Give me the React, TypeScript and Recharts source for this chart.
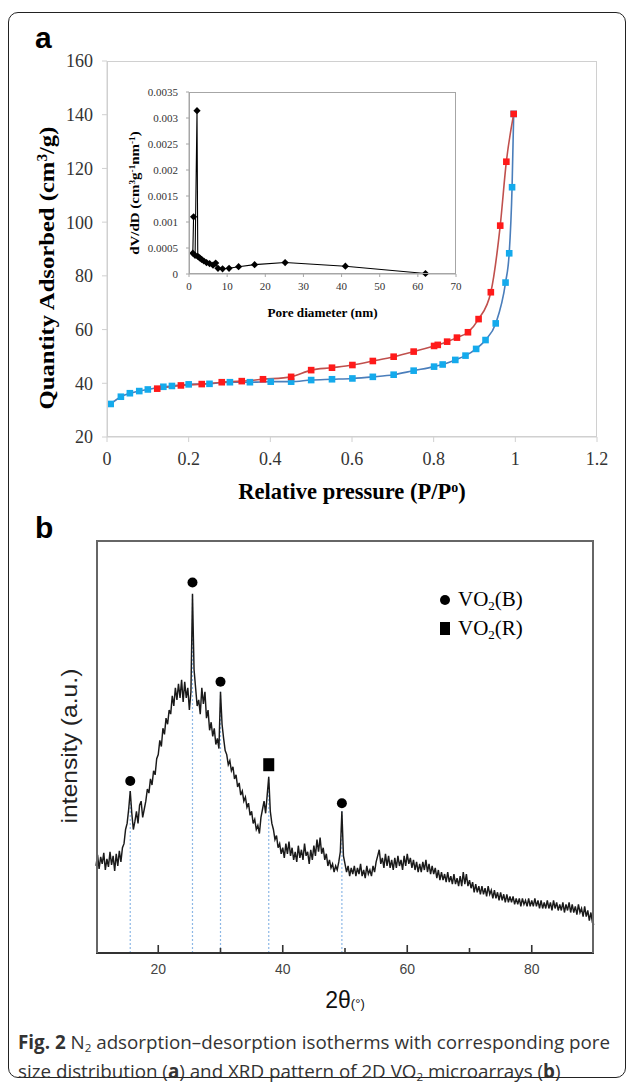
import React from "react";
import { LineChart, Line, ComposedChart, Scatter, XAxis, YAxis, ReferenceLine } from "recharts";

// ---- panel a: N2 isotherm (P/P0 vs quantity adsorbed, cm3/g)
const adsP = [0.009, 0.034, 0.056, 0.079, 0.1, 0.138, 0.159, 0.2, 0.251, 0.301, 0.35, 0.401, 0.451, 0.5, 0.551, 0.601, 0.651, 0.702, 0.751, 0.801, 0.822, 0.853, 0.878, 0.904, 0.927, 0.952, 0.976, 0.985, 0.992, 0.996];
const adsQ = [32.3, 35.0, 36.3, 37.1, 37.7, 38.7, 39.0, 39.6, 39.8, 40.4, 40.4, 40.6, 40.6, 41.2, 41.5, 41.8, 42.4, 43.2, 44.7, 46.2, 47.0, 48.7, 50.3, 52.8, 56.1, 62.3, 77.5, 88.4, 113.0, 140.3];
const desP = [0.123, 0.181, 0.232, 0.281, 0.33, 0.382, 0.451, 0.5, 0.551, 0.601, 0.651, 0.702, 0.751, 0.801, 0.81, 0.833, 0.857, 0.884, 0.91, 0.94, 0.963, 0.978, 0.996];
const desQ = [38.0, 39.2, 39.7, 40.4, 40.8, 41.5, 42.4, 44.9, 45.8, 46.8, 48.3, 49.9, 51.8, 53.9, 54.3, 55.5, 57.0, 59.0, 63.9, 73.9, 98.7, 122.5, 140.3];
const isoXTicks = [0, 0.2, 0.4, 0.6, 0.8, 1, 1.2];
const isoYTicks = [20, 40, 60, 80, 100, 120, 140, 160];

// inset: pore size distribution
const poreD = [1.2, 1.0, 1.6, 2.1, 2.3, 2.8, 3.3, 3.9, 4.6, 5.4, 6.3, 7.0, 7.6, 8.8, 10.5, 13, 17.2, 25.2, 41, 62];
const poreV = [0.0011, 0.0004, 0.00036, 0.00314, 0.00034, 0.00031, 0.00028, 0.00025, 0.00022, 0.0002, 0.00017, 0.00021, 0.00011, 0.0001, 0.00011, 0.00014, 0.00018, 0.00022, 0.00015, 0.00001];
const poreXTicks = [0, 10, 20, 30, 40, 50, 60, 70];
const poreYTicks = [0, 0.0005, 0.001, 0.0015, 0.002, 0.0025, 0.003, 0.0035];

// ---- panel b: XRD pattern (2theta, intensity in arbitrary units)
const xrdTheta = [
  10, 10.25, 10.5, 10.75, 11, 11.25, 11.5, 11.75,
  12, 12.25, 12.5, 12.75, 13, 13.25, 13.5, 13.75,
  14, 14.25, 14.5, 14.75, 15, 15.25, 15.5, 15.75,
  16, 16.25, 16.5, 16.75, 17, 17.25, 17.5, 17.75,
  18, 18.25, 18.5, 18.75, 19, 19.25, 19.5, 19.75,
  20, 20.25, 20.5, 20.75, 21, 21.25, 21.5, 21.75,
  22, 22.25, 22.5, 22.75, 23, 23.25, 23.5, 23.75,
  24, 24.25, 24.5, 24.75, 25, 25.25, 25.5, 25.75,
  26, 26.25, 26.5, 26.75, 27, 27.25, 27.5, 27.75,
  28, 28.25, 28.5, 28.75, 29, 29.25, 29.5, 29.75,
  30, 30.25, 30.5, 30.75, 31, 31.25, 31.5, 31.75,
  32, 32.25, 32.5, 32.75, 33, 33.25, 33.5, 33.75,
  34, 34.25, 34.5, 34.75, 35, 35.25, 35.5, 35.75,
  36, 36.25, 36.5, 36.75, 37, 37.25, 37.5, 37.75,
  38, 38.25, 38.5, 38.75, 39, 39.25, 39.5, 39.75,
  40, 40.25, 40.5, 40.75, 41, 41.25, 41.5, 41.75,
  42, 42.25, 42.5, 42.75, 43, 43.25, 43.5, 43.75,
  44, 44.25, 44.5, 44.75, 45, 45.25, 45.5, 45.75,
  46, 46.25, 46.5, 46.75, 47, 47.25, 47.5, 47.75,
  48, 48.25, 48.5, 48.75, 49, 49.25, 49.5, 49.75,
  50, 50.25, 50.5, 50.75, 51, 51.25, 51.5, 51.75,
  52, 52.25, 52.5, 52.75, 53, 53.25, 53.5, 53.75,
  54, 54.25, 54.5, 54.75, 55, 55.25, 55.5, 55.75,
  56, 56.25, 56.5, 56.75, 57, 57.25, 57.5, 57.75,
  58, 58.25, 58.5, 58.75, 59, 59.25, 59.5, 59.75,
  60, 60.25, 60.5, 60.75, 61, 61.25, 61.5, 61.75,
  62, 62.25, 62.5, 62.75, 63, 63.25, 63.5, 63.75,
  64, 64.25, 64.5, 64.75, 65, 65.25, 65.5, 65.75,
  66, 66.25, 66.5, 66.75, 67, 67.25, 67.5, 67.75,
  68, 68.25, 68.5, 68.75, 69, 69.25, 69.5, 69.75,
  70, 70.25, 70.5, 70.75, 71, 71.25, 71.5, 71.75,
  72, 72.25, 72.5, 72.75, 73, 73.25, 73.5, 73.75,
  74, 74.25, 74.5, 74.75, 75, 75.25, 75.5, 75.75,
  76, 76.25, 76.5, 76.75, 77, 77.25, 77.5, 77.75,
  78, 78.25, 78.5, 78.75, 79, 79.25, 79.5, 79.75,
  80, 80.25, 80.5, 80.75, 81, 81.25, 81.5, 81.75,
  82, 82.25, 82.5, 82.75, 83, 83.25, 83.5, 83.75,
  84, 84.25, 84.5, 84.75, 85, 85.25, 85.5, 85.75,
  86, 86.25, 86.5, 86.75, 87, 87.25, 87.5, 87.75,
  88, 88.25, 88.5, 88.75, 89, 89.25, 89.5, 89.75,
  90,
];
const xrdIntensity = [
  86, 97, 83, 95, 88, 99, 82, 93,
  85, 100, 87, 96, 81, 98, 86, 101,
  90, 104, 108, 122, 128, 142, 160, 138,
  122, 130, 140, 128, 146, 150, 134, 142,
  150, 162, 158, 172, 166, 180, 176, 192,
  196, 210, 204, 222, 216, 232, 226, 240,
  236, 254, 244, 262, 250, 266, 252, 270,
  248, 268, 252, 262, 240, 258, 355, 280,
  262, 244, 250, 236, 262, 246, 258, 232,
  240, 220, 228, 214, 222, 206, 212, 202,
  258, 226, 212, 200, 196, 186, 190, 180,
  184, 172, 176, 164, 168, 156, 160, 150,
  154, 144, 148, 136, 140, 128, 132, 122,
  126, 118, 134, 142, 150, 138, 156, 174,
  140, 128, 122, 112, 116, 104, 108, 98,
  104, 94, 108, 98, 110, 96, 104, 92,
  100, 90, 106, 94, 102, 92, 108, 96,
  100, 88, 102, 92, 106, 96, 112, 100,
  114, 98, 104, 92, 98, 86, 92, 84,
  88, 80, 86, 82, 90, 100, 140, 96,
  88, 80, 86, 76, 84, 78, 86, 76,
  84, 78, 88, 76, 82, 74, 86, 78,
  82, 76, 86, 80, 90, 96, 102, 88,
  94, 84, 98, 86, 96, 84, 92, 82,
  94, 84, 96, 86, 92, 82, 96, 86,
  98, 88, 94, 84, 92, 82, 90, 80,
  88, 80, 90, 82, 92, 80, 88, 78,
  86, 78, 84, 74, 82, 72, 80, 72,
  78, 70, 80, 70, 76, 68, 78, 68,
  74, 66, 76, 66, 80, 68, 78, 66,
  72, 64, 70, 60, 68, 60, 66, 58,
  66, 58, 64, 56, 66, 58, 62, 54,
  62, 54, 60, 52, 60, 52, 58, 50,
  58, 50, 56, 50, 56, 48, 54, 48,
  54, 46, 54, 48, 52, 46, 54, 46,
  52, 46, 54, 46, 52, 44, 52, 44,
  50, 44, 52, 44, 50, 42, 52, 44,
  50, 42, 48, 42, 50, 40, 48, 42,
  50, 40, 48, 40, 46, 38, 48, 40,
  44, 36, 46, 36, 42, 32, 40, 30,
  28,
];
const peakTheta = [15.5, 25.5, 30, 37.75, 49.5];
const peakTop = [160, 355, 258, 174, 140];
const peakMark = [170, 366, 268, 186, 148];
const peakPhase = ["B", "B", "B", "R", "B"];
const xrdTicks = [20, 30, 40, 50, 60, 70, 80];

const serif = "'Liberation Serif', 'Times New Roman', serif";
const sans = "'Liberation Sans', Arial, sans-serif";

const adsData = adsP.map((p, i) => ({ p, q: adsQ[i] }));
const desData = desP.map((p, i) => ({ p, q: desQ[i] }));
const poreData = poreD.map((d, i) => ({ d, v: poreV[i] }));
const xrdData = xrdTheta.map((t, i) => ({ t, i: xrdIntensity[i] }));
const peakData = peakTheta.map((t, i) => ({ t, m: peakMark[i], phase: peakPhase[i] }));

function squareDot(fill: string) {
  return (props: any) => {
    const { cx, cy, index } = props;
    if (cx == null || cy == null) return <g key={index} />;
    return <rect key={index} x={cx - 3.3} y={cy - 3.3} width={6.6} height={6.6} fill={fill} />;
  };
}

function diamondDot(props: any) {
  const { cx, cy, index } = props;
  if (cx == null || cy == null) return <g key={index} />;
  const r = 3.6;
  return <path key={index} d={`M${cx},${cy - r}L${cx + r},${cy}L${cx},${cy + r}L${cx - r},${cy}Z`} fill="#000" />;
}

function XrdTick(props: any) {
  const { x, y, payload } = props;
  const v = payload.value;
  const major = v % 20 === 0;
  return (
    <g>
      <line x1={x} x2={x} y1={y} y2={y - (major ? 8 : 5)} stroke="#333" strokeWidth={1.6} />
      {major && (
        <text x={x} y={y + 21} textAnchor="middle" fontFamily={sans} fontSize={14} fill="#444">
          {v}
        </text>
      )}
    </g>
  );
}

function PeakShape(props: any) {
  const { cx, cy, payload } = props;
  if (payload.phase === "R") return <rect x={cx - 5.5} y={cy - 6.5} width={11} height={13} fill="#000" />;
  return <circle cx={cx} cy={cy} r={5} fill="#000" />;
}

const abs = (l: number, t: number, extra: React.CSSProperties = {}): React.CSSProperties => ({
  position: "absolute", left: l, top: t, ...extra,
});

// vertical axis title, rotated about its centre; stretch lengthens it along the text
function Rotated({ cx, cy, w, stretch = 1, children, style }: any) {
  return (
    <div style={abs(cx - w / 2, cy - 15, { width: w, height: 30, lineHeight: "30px", textAlign: "center", transform: `rotate(-90deg) scaleX(${stretch})`, whiteSpace: "nowrap", ...style })}>
      {children}
    </div>
  );
}

const sub: React.CSSProperties = { fontSize: "0.62em", verticalAlign: "baseline", position: "relative", top: "0.3em" };
const sup: React.CSSProperties = { fontSize: "0.62em", verticalAlign: "baseline", position: "relative", top: "-0.5em" };

export default function App() {
  const isoTick = { fontFamily: serif, fontSize: 18, fill: "#333" };
  const poreTick = { fontFamily: serif, fontSize: 11, fill: "#333" };
  return (
    <div style={{ position: "absolute", left: 0, top: 0, width: 629, height: 1086, background: "#fff", overflow: "hidden" }}>
      {/* outer frame */}
      <div style={abs(8, 12, { width: 618, height: 1066, border: "1.5px solid #222", borderRadius: 10, boxSizing: "border-box" })} />

      {/* ---------- panel a ---------- */}
      <div style={abs(35, 20, { fontFamily: sans, fontWeight: 700, fontSize: 30, lineHeight: "36px" })}>a</div>

      <div style={abs(0, 0)}>
        <LineChart width={629} height={520} margin={{ top: 61, right: 32, bottom: 53, left: 47 }}>
          <XAxis type="number" dataKey="p" domain={[0, 1.2]} ticks={isoXTicks}
            stroke="#d0d0d0" tick={isoTick} tickSize={5} tickMargin={10} height={30} interval={0} />
          <YAxis type="number" domain={[20, 160]} ticks={isoYTicks} stroke="#d0d0d0" tick={isoTick}
            tickSize={5} tickMargin={9} width={60} interval={0} />
          <Line data={adsData} dataKey="q" type="monotone" stroke="#4a7ebb" strokeWidth={1.6}
            dot={squareDot("#14aaec")} isAnimationActive={false} />
          <Line data={desData} dataKey="q" type="monotone" stroke="#c0504d" strokeWidth={1.6}
            dot={squareDot("#ff1a1a")} isAnimationActive={false} />
        </LineChart>
      </div>
      <div style={abs(107, 61, { width: 490, height: 376, border: "1px solid #d0d0d0", boxSizing: "border-box", pointerEvents: "none" })} />

      <Rotated cx={47} cy={268} w={360} stretch={1.12} style={{ fontFamily: serif, fontWeight: 700, fontSize: 22 }}>
        Quantity Adsorbed (cm<span style={sup}>3</span>/g)
      </Rotated>
      <div style={abs(0, 477, { width: 704, textAlign: "center", fontFamily: serif, fontWeight: 700, fontSize: 22.5, lineHeight: "30px" })}>
        Relative pressure (P/P<span style={sup}>o</span>)
      </div>

      {/* inset */}
      <div style={abs(100, 80)}>
        <LineChart width={370} height={250} margin={{ top: 12, right: 14, bottom: 36, left: 29 }}>
          <XAxis type="number" dataKey="d" domain={[0, 70]} ticks={poreXTicks} stroke="#a6a6a6"
            tick={poreTick} tickSize={3} tickMargin={5} height={20} interval={0} />
          <YAxis type="number" domain={[0, 0.0035]} ticks={poreYTicks} stroke="#a6a6a6"
            tick={poreTick} tickSize={3} tickMargin={8} width={60} interval={0} />
          <Line data={poreData} dataKey="v" type="linear" stroke="#000" strokeWidth={1.1}
            dot={diamondDot} isAnimationActive={false} />
        </LineChart>
      </div>
      <div style={abs(189, 92, { width: 267, height: 182, border: "1px solid #a6a6a6", boxSizing: "border-box", pointerEvents: "none" })} />
      <Rotated cx={135} cy={193} w={200} stretch={1.15} style={{ fontFamily: serif, fontWeight: 700, fontSize: 13 }}>
        dV/dD (cm<span style={sup}>3</span>g<span style={sup}>-1</span>nm<span style={sup}>-1</span>)
      </Rotated>
      <div style={abs(189, 303, { width: 267, textAlign: "center", fontFamily: serif, fontWeight: 700, fontSize: 13.2, lineHeight: "20px" })}>
        Pore diameter (nm)
      </div>

      {/* ---------- panel b ---------- */}
      <div style={abs(35, 510, { fontFamily: sans, fontWeight: 700, fontSize: 30, lineHeight: "36px" })}>b</div>

      <div style={abs(0, 515)}>
        <ComposedChart width={629} height={485} margin={{ top: 25, right: 35, bottom: 17, left: 96 }}>
          <XAxis type="number" dataKey="t" domain={[10, 90]} ticks={xrdTicks} interval={0}
            axisLine={{ stroke: "#333", strokeWidth: 2 }} tickLine={false} tickSize={0} tickMargin={0}
            tick={<XrdTick />} height={30} />
          <YAxis type="number" domain={[0, 408]} hide />
          {peakTheta.map((t, k) => (
            <ReferenceLine key={k} segment={[{ x: t, y: 0 }, { x: t, y: peakTop[k] }]}
              stroke="#8db8e6" strokeWidth={1.2} strokeDasharray="2 2" />
          ))}
          <Line data={xrdData} dataKey="i" type="linear" stroke="#1a1a1a" strokeWidth={1.45}
            dot={false} isAnimationActive={false} />
          <Scatter data={peakData} dataKey="m" shape={<PeakShape />} isAnimationActive={false} />
        </ComposedChart>
      </div>
      <div style={abs(96, 540, { width: 498, height: 413, border: "2px solid #666", borderBottom: "none", boxSizing: "border-box", pointerEvents: "none" })} />

      {/* legend */}
      <div style={abs(440, 595, { width: 10, height: 10, borderRadius: 5, background: "#000" })} />
      <div style={abs(458, 586, { fontFamily: serif, fontSize: 21, lineHeight: "26px" })}>VO<span style={sub}>2</span>(B)</div>
      <div style={abs(440, 622, { width: 10, height: 13, background: "#000" })} />
      <div style={abs(458, 615, { fontFamily: serif, fontSize: 21, lineHeight: "26px" })}>VO<span style={sub}>2</span>(R)</div>

      <Rotated cx={70} cy={746} w={240} stretch={1.12} style={{ fontFamily: sans, fontSize: 22, color: "#222" }}>
        intensity (a.u.)
      </Rotated>
      <div style={abs(0, 985, { width: 690, textAlign: "center", fontFamily: sans, fontSize: 23, lineHeight: "30px", color: "#111" })}>
        2θ<span style={{ fontSize: 13 }}>(°)</span>
      </div>

      {/* caption */}
      <div style={abs(18, 1029, { fontFamily: "'Open Sans', sans-serif", fontSize: 18.8, lineHeight: "26px", color: "#333", whiteSpace: "nowrap" })}>
        <b>Fig. 2</b> N<span style={sub}>2</span> adsorption–desorption isotherms with corresponding pore
        <br />
        size distribution (<b>a</b>) and XRD pattern of 2D VO<span style={sub}>2</span> microarrays (<b>b</b>)
      </div>
    </div>
  );
}
